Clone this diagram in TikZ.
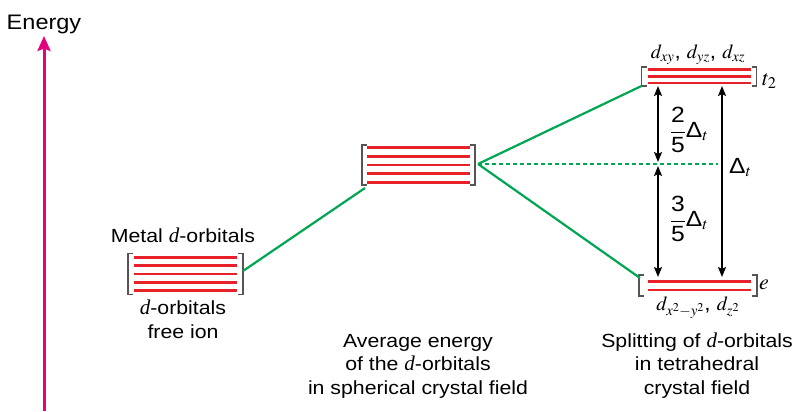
\documentclass[tikz,border=0pt]{standalone}
\usepackage{amsmath}
\usepackage{mathptmx}
\usepackage{fontspec}
\setmainfont{Liberation Sans}[FakeStretch=1.12]
\newfontfamily\tms{Liberation Serif}
\usetikzlibrary{arrows.meta,calc}
\definecolor{levelred}{HTML}{E8202A}
\definecolor{linkgreen}{HTML}{00A651}
\definecolor{axismag}{HTML}{E6007E}
\definecolor{brk}{HTML}{555555}
\newcommand{\dit}{{\tms\itshape\fontsize{21}{23.5}\selectfont d}}

\begin{document}
\begin{tikzpicture}[x=1pt,y=-1pt,
  levelbox/.style={draw=none,inner sep=0,outer sep=0},
  redline/.style={draw=levelred,line width=2.6pt},
  bracket/.style={draw=brk,line width=1.2pt},
  link/.style={draw=linkgreen,line width=2.2pt},
  dashlink/.style={draw=linkgreen,line width=1.6pt,dash pattern=on 4pt off 3pt},
  gap/.style={draw=black,line width=1.8pt,{Stealth[length=10pt,width=8pt,inset=2pt]}-{Stealth[length=10pt,width=8pt,inset=2pt]}},
  axis/.style={draw=axismag,line width=3pt,-{Stealth[length=15pt,width=13pt,inset=2.5pt]}},
  txt/.style={font=\fontsize{19}{23.5}\selectfont,align=center,inner sep=0},
  mth/.style={font=\fontsize{20}{24}\selectfont,inner sep=0},
  bigmth/.style={font=\fontsize{22}{26}\selectfont,inner sep=0}
]
\useasboundingbox (0,0) rectangle (798,412);

% energy axis
\coordinate (ebase) at (44,411);
\coordinate (etip) at (44,36);
\draw[axis] (ebase) -- (etip);
\node[txt,font=\fontsize{21}{25}\selectfont,anchor=base] (energy) at (44,30) {Energy};

% level boxes (bracket extents)
\node[levelbox,minimum width=115pt,minimum height=41pt] (freebox) at (185.5,274) {};
\node[levelbox,minimum width=113pt,minimum height=40pt] (avgbox) at (418.5,165) {};
\node[levelbox,minimum width=115pt,minimum height=19pt] (t2box) at (699,76.5) {};
\node[levelbox,minimum width=118pt,minimum height=21pt] (ebox) at (698,285.5) {};

% brackets
\foreach \b in {freebox,avgbox,t2box,ebox}{
  \draw[bracket] ($(\b.north west)+(5,0)$) -- (\b.north west) -- (\b.south west) -- ++(5,0);
  \draw[bracket] ($(\b.north east)+(-5,0)$) -- (\b.north east) -- (\b.south east) -- ++(-5,0);
}

% orbital levels
\foreach \k in {-2,...,2}{
  \draw[redline] ($(freebox.center)+(-51.5,\k*8.3)$) -- ++(103,0);
  \draw[redline] ($(avgbox.center)+(-51.5,\k*8.75)$) -- ++(103,0);
}
\foreach \k in {-1,0,1}
  \draw[redline] ($(t2box.center)+(-51.5,\k*6.7)$) -- ++(103,0);
\foreach \k in {-0.5,0.5}
  \draw[redline] ($(ebox.center)+(-50.5,\k*8.6)$) -- ++(103,0);

% correlation lines
\draw[link] ($(freebox.east)+(0,-3)$) -- ($(avgbox.south west)+(3,3)$);
\draw[link] ($(avgbox.east)+(3,-1)$) -- (t2box.south west);
\draw[link] ($(avgbox.east)+(3,-1)$) -- ($(ebox.north west)+(1,3)$);
\coordinate (baryc) at (718,164);
\draw[dashlink] ($(avgbox.east)+(3,-1)$) -- (baryc);

% splitting arrows
\coordinate (leftx) at (658,0);
\coordinate (rightx) at (722,0);
\coordinate (midup) at (658,162);
\coordinate (middn) at (658,166);
\draw[gap] (leftx |- t2box.south) -- (midup);
\draw[gap] (middn) -- ($(leftx |- ebox.north)+(0,2)$);
\draw[gap] (rightx |- t2box.south) -- ($(rightx |- ebox.north)+(0,2)$);

% energy labels
\node[bigmth] (frac1) at (689,130) {$\dfrac{\mbox{2}}{\mbox{5}}\mbox{Δ}_{t}$};
\node[bigmth] (frac2) at (689,219) {$\dfrac{\mbox{3}}{\mbox{5}}\mbox{Δ}_{t}$};
\node[bigmth,anchor=base west] (deltat) at (729,173) {$\mbox{Δ}_{t}$};

% orbital labels
\node[mth,anchor=base] (t2orb) at (698,59) {$d_{xy}$, $d_{yz}$, $d_{xz}$};
\node[bigmth,anchor=base west] (t2lab) at (762,85) {$t_2$};
\node[bigmth,anchor=base west] (elab) at (759,289) {$e$};
\node[mth,anchor=base] (eorb) at (698,310) {$d_{x^2-y^2}$, $d_{z^2}$};

% captions (multi-line nodes are placed by the baseline of their last line)
\node[txt,anchor=base] (metal) at (183,242) {Metal \dit-orbitals};
\node[txt,anchor=base] (freeion) at (183,338) {\dit-orbitals\\free ion};
\node[txt,anchor=base] (avgcap) at (418,394) {Average energy\\of the \dit-orbitals\\in spherical crystal field};
\node[txt,anchor=base] (splitcap) at (697,394) {Splitting of \dit-orbitals\\in tetrahedral\\crystal field};
\end{tikzpicture}
\end{document}
